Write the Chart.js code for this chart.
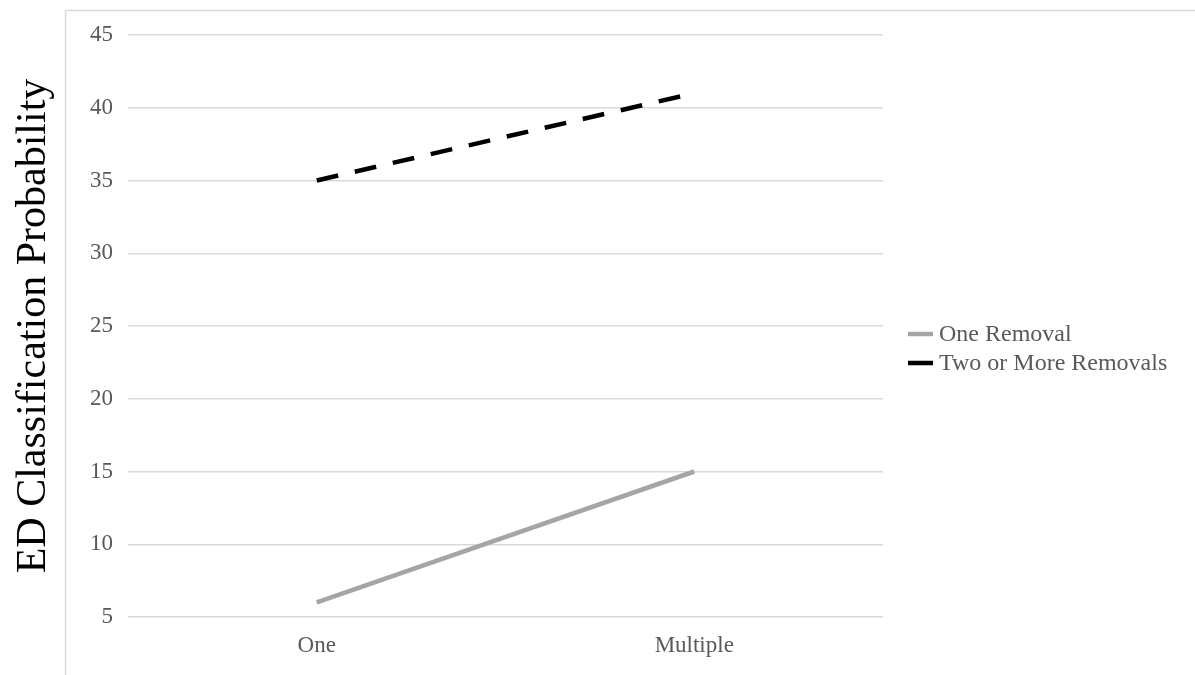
<!DOCTYPE html>
<html>
<head>
<meta charset="utf-8">
<script src="https://cdn.jsdelivr.net/npm/chart.js@4.4.1/dist/chart.umd.min.js"></script>
<style>
  html, body { margin: 0; padding: 0; background: #fff; }
  #wrap { width: 1195px; height: 675px; position: relative; }
</style>
</head>
<body>
<div id="wrap"><canvas id="chart" width="1195" height="675"></canvas></div>
<script>
// data
const categories = ["One", "Multiple"];
const oneRemoval = [6, 15];
const twoOrMore = [35, 41];
const seriesNames = ["One Removal", "Two or More Removals"];
const yTicks = [5, 10, 15, 20, 25, 30, 35, 40, 45];
const yTitle = "ED Classification Probability";

const serif = "'Liberation Serif', 'Times New Roman', serif";
const tickGray = "#595959";

// frame lines (left + top) like the pasted chart box
const framePlugin = {
    id: "frame",
    beforeDraw(chart) {
        const ctx = chart.ctx;
        ctx.save();
        ctx.strokeStyle = "#d9d9d9";
        ctx.lineWidth = 1.5;
        ctx.beginPath();
        ctx.moveTo(65.5, 675);
        ctx.lineTo(65.5, 10.5);
        ctx.lineTo(1195, 10.5);
        ctx.stroke();
        ctx.restore();
    }
};

// legend on the right, short line samples + labels
const legendPlugin = {
    id: "sideLegend",
    afterDraw(chart) {
        const ctx = chart.ctx;
        ctx.save();
        ctx.font = "24px " + serif;
        ctx.textBaseline = "middle";
        chart.data.datasets.forEach((ds, i) => {
            const y = 334 + i * 29;
            ctx.strokeStyle = ds.borderColor;
            ctx.lineWidth = 4.5;
            ctx.setLineDash([]);
            ctx.beginPath();
            ctx.moveTo(908, y);
            ctx.lineTo(933, y);
            ctx.stroke();
            ctx.fillStyle = tickGray;
            ctx.fillText(ds.label, 939, y + 1);
        });
        ctx.restore();
    }
};

new Chart(document.getElementById("chart"), {
    type: "line",
    data: {
        labels: categories,
        datasets: [
            {
                label: seriesNames[0],
                data: oneRemoval,
                borderColor: "#a5a5a5",
                borderWidth: 4.5,
                pointRadius: 0,
                tension: 0
            },
            {
                label: seriesNames[1],
                data: twoOrMore,
                borderColor: "#000000",
                borderWidth: 4.5,
                borderDash: [22, 17],
                pointRadius: 0,
                tension: 0
            }
        ]
    },
    options: {
        responsive: false,
        animation: false,
        layout: { padding: { top: 35, right: 312, left: 0, bottom: 0 } },
        plugins: {
            legend: { display: false },
            tooltip: { enabled: false }
        },
        scales: {
            x: {
                offset: true,
                grid: { display: false, drawTicks: false },
                border: { display: false },
                ticks: { color: tickGray, font: { family: serif, size: 23 }, padding: 15 },
                afterFit(scale) { scale.height = 58; }
            },
            y: {
                min: 5,
                max: 45,
                afterBuildTicks(scale) {
                    scale.ticks = yTicks.map(v => ({ value: v }));
                },
                grid: { color: "#d9d9d9", lineWidth: 1.5, drawTicks: false },
                border: { display: false },
                ticks: { color: tickGray, font: { family: serif, size: 23 }, padding: 15 },
                title: {
                    display: true,
                    text: yTitle,
                    color: "#000000",
                    font: { family: serif, size: 42 },
                    padding: { top: 9, bottom: 0 }
                },
                afterFit(scale) { scale.width = 128; }
            }
        }
    },
    plugins: [framePlugin, legendPlugin]
});
</script>
</body>
</html>
